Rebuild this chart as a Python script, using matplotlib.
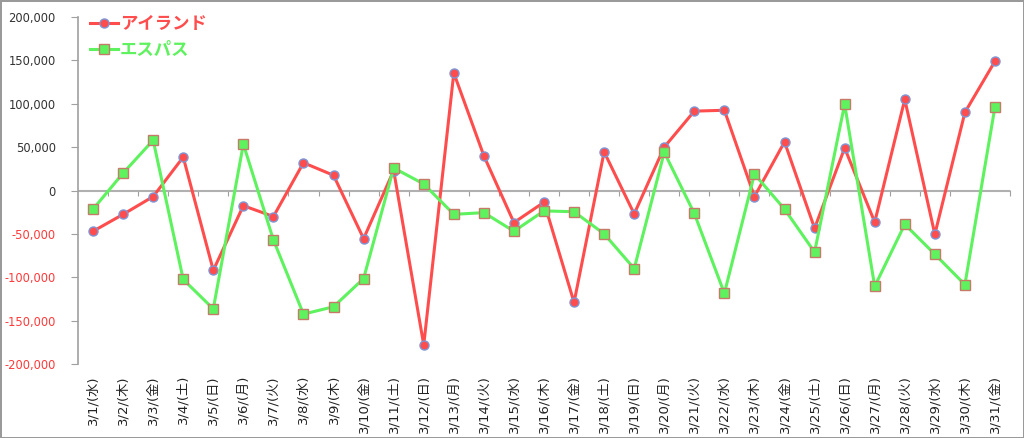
import matplotlib.pyplot as plt
from matplotlib.ticker import FuncFormatter, FixedLocator, NullFormatter

plt.rcParams['font.family'] = ['DejaVu Sans', 'Noto Sans CJK JP']

# date labels
days = ['3/1/(水)', '3/2/(木)', '3/3/(金)', '3/4/(土)', '3/5/(日)', '3/6/(月)', '3/7/(火)',
        '3/8/(水)', '3/9/(木)', '3/10/(金)', '3/11/(土)', '3/12/(日)', '3/13/(月)', '3/14/(火)',
        '3/15/(水)', '3/16/(木)', '3/17/(金)', '3/18/(土)', '3/19/(日)', '3/20/(月)', '3/21/(火)',
        '3/22/(水)', '3/23/(木)', '3/24/(金)', '3/25/(土)', '3/26/(日)', '3/27/(月)', '3/28/(火)',
        '3/29/(水)', '3/30/(木)', '3/31/(金)']

island = [-47000, -27500, -7000, 38500, -92000, -17500, -30000, 32000, 17500, -55500,
          23000, -178000, 135500, 40000, -37000, -13500, -129000, 44500, -27000, 50000,
          91500, 92500, -7000, 56000, -43500, 49000, -36500, 105000, -50500, 90000, 149000]
espasu = [-21500, 20000, 58000, -102500, -136500, 53500, -57000, -142500, -134000, -101500,
          26000, 7500, -27500, -25500, -47000, -23500, -24500, -50000, -90000, 44000,
          -26500, -118500, 19000, -21500, -71000, 99500, -110500, -39000, -73500, -108500, 96500]

red = '#ff4d4d'
green = '#5ef25e'

fig = plt.figure(figsize=(10.24, 4.38), dpi=100, edgecolor='#9a9a9a', linewidth=2)
ax = fig.add_axes([78/1024, 1-364/438, 932/1024, 347/438])

x = list(range(len(days)))
ax.plot(x, island, '-o', color=red, lw=2.2, ms=6.5, mfc=red, mec='#7f95d6', mew=1,
        label='アイランド', zorder=3)
ax.plot(x, espasu, '-s', color=green, lw=2.2, ms=6.5, mfc=green, mec='#c87a6a', mew=1,
        label='エスパス', zorder=3)

ax.set_xlim(-0.5, len(days)-0.5)
ax.set_ylim(-200000, 200000)
ax.set_yticks(range(-200000, 200001, 50000))
ax.yaxis.set_major_formatter(FuncFormatter(lambda v, p: f'{int(v):,}'))
ax.tick_params(axis='y', colors='#a0a0a0', length=5, labelsize=8.3, pad=11)
for t in ax.get_yticklabels():
    t.set_color('#ff3a3a' if t.get_text().startswith('-') else '#333333')

ax.set_xticks(x)
ax.set_xticklabels(days, rotation=90, fontsize=9.5, color='#222222')
ax.tick_params(axis='x', length=0, pad=8)

# zero line with category boundary ticks
ax.axhline(0, color='#b0b0b0', lw=1.5, zorder=1)
sec = ax.secondary_xaxis(0.5)
sec.xaxis.set_major_locator(FixedLocator([i + 0.5 for i in x[:-1]] + [len(days)-0.5]))
sec.xaxis.set_major_formatter(NullFormatter())
sec.tick_params(axis='x', direction='in', length=4, color='#a0a0a0',
                labelbottom=False, labeltop=False)
sec.spines['bottom'].set_visible(False)
sec.spines['top'].set_visible(False)

for s in ['top', 'right', 'bottom']:
    ax.spines[s].set_visible(False)
ax.spines['left'].set_color('#a0a0a0')
ax.spines['left'].set_linewidth(1.2)

leg = ax.legend(loc='upper left', bbox_to_anchor=(0.0, 1.04), frameon=False,
                prop={'size': 12.5, 'weight': 'bold'}, handlelength=1.6,
                handletextpad=0.1, labelspacing=0.45, borderaxespad=0.3)
for txt, c in zip(leg.get_texts(), [red, green]):
    txt.set_color(c)

fig.savefig('out.png', dpi=100)
